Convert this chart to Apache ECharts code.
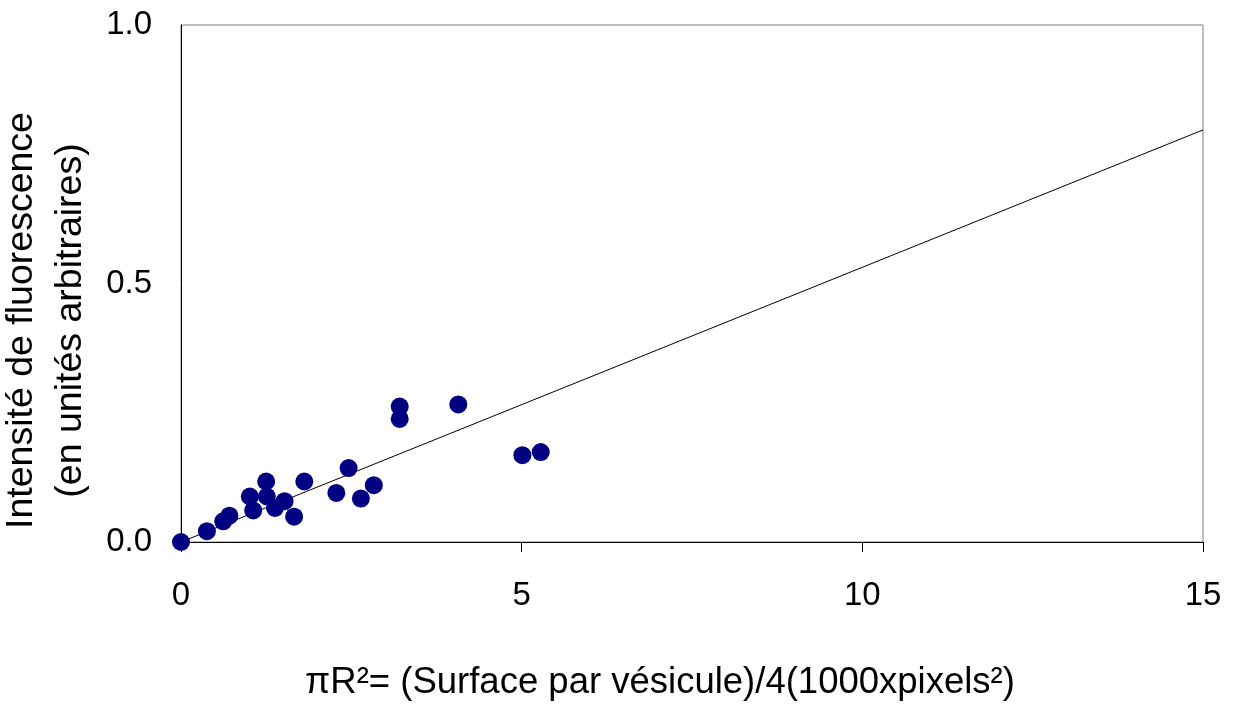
<!DOCTYPE html>
<html>
<head>
<meta charset="utf-8">
<script src="https://cdn.jsdelivr.net/npm/echarts@6/dist/echarts.min.js"></script>
<style>
html,body{margin:0;padding:0;background:#fff;}
#chart{width:1237px;height:709px;}
</style>
</head>
<body>
<div id="chart"></div>
<script>
// Measured points: [surface πR² (x1000 px²), fluorescence intensity (a.u.)]
const xValues = [0, 0.38, 0.62, 0.71, 1.01, 1.06, 1.25, 1.26, 1.38, 1.52, 1.66, 1.81, 2.28, 2.46, 2.64, 2.83, 3.21, 3.21, 4.07, 5.01, 5.28];
const yValues = [0, 0.021, 0.040, 0.051, 0.088, 0.061, 0.117, 0.088, 0.066, 0.079, 0.049, 0.117, 0.095, 0.143, 0.084, 0.110, 0.262, 0.238, 0.266, 0.168, 0.174];
// Linear trend line through origin (endpoints)
const trendX = [0, 15];
const trendY = [0, 0.797];
const xTicks = [0, 5, 10, 15];
const yTicks = [0.0, 0.5, 1.0];
const xTitle = 'πR²= (Surface par vésicule)/4(1000xpixels²)';
const yTitle = 'Intensité de fluorescence\n(en unités arbitraires)';

const chart = echarts.init(document.getElementById('chart'), null, {renderer: 'canvas'});
const font = 'Liberation Sans, Arial, sans-serif';
chart.setOption({
  animation: false,
  backgroundColor: '#ffffff',
  grid: {left: 181, right: 34, top: 25, bottom: 167, show: true, borderColor: '#808080', borderWidth: 1,
         containLabel: false, outerBoundsMode: 'none'},
  xAxis: {
    type: 'value', min: xTicks[0], max: xTicks[xTicks.length - 1], interval: 5,
    axisLine: {show: true, onZero: false, lineStyle: {color: '#000', width: 1}},
    axisTick: {show: true, inside: false, length: 10, lineStyle: {color: '#000'}},
    splitLine: {show: false},
    axisLabel: {color: '#000', fontFamily: font, fontSize: 33, margin: 37},
    name: xTitle, nameLocation: 'middle', nameGap: 122,
    nameTextStyle: {color: '#000', fontFamily: font, fontSize: 36.5, padding: [0, 64, 0, 0]}
  },
  yAxis: {
    type: 'value', min: yTicks[0], max: yTicks[yTicks.length - 1], interval: 0.5,
    axisLine: {show: true, onZero: false, lineStyle: {color: '#000', width: 1}},
    axisTick: {show: false},
    splitLine: {show: false},
    axisLabel: {color: '#000', fontFamily: font, fontSize: 33, margin: 29, formatter: v => v.toFixed(1)},
    name: yTitle, nameLocation: 'middle', nameGap: 77,
    nameTextStyle: {color: '#000', fontFamily: font, fontSize: 37.5, lineHeight: 49, align: 'center', padding: [0, 74, 0, 0]}
  },
  series: [
    {
      type: 'line', data: trendX.map((x, i) => [x, trendY[i]]),
      symbol: 'none', lineStyle: {color: '#000', width: 1}, z: 1, silent: true
    },
    {
      type: 'scatter', data: xValues.map((x, i) => [x, yValues[i]]),
      symbol: 'circle', symbolSize: 18, itemStyle: {color: '#000080', opacity: 1}, z: 2
    }
  ]
});
</script>
</body>
</html>
